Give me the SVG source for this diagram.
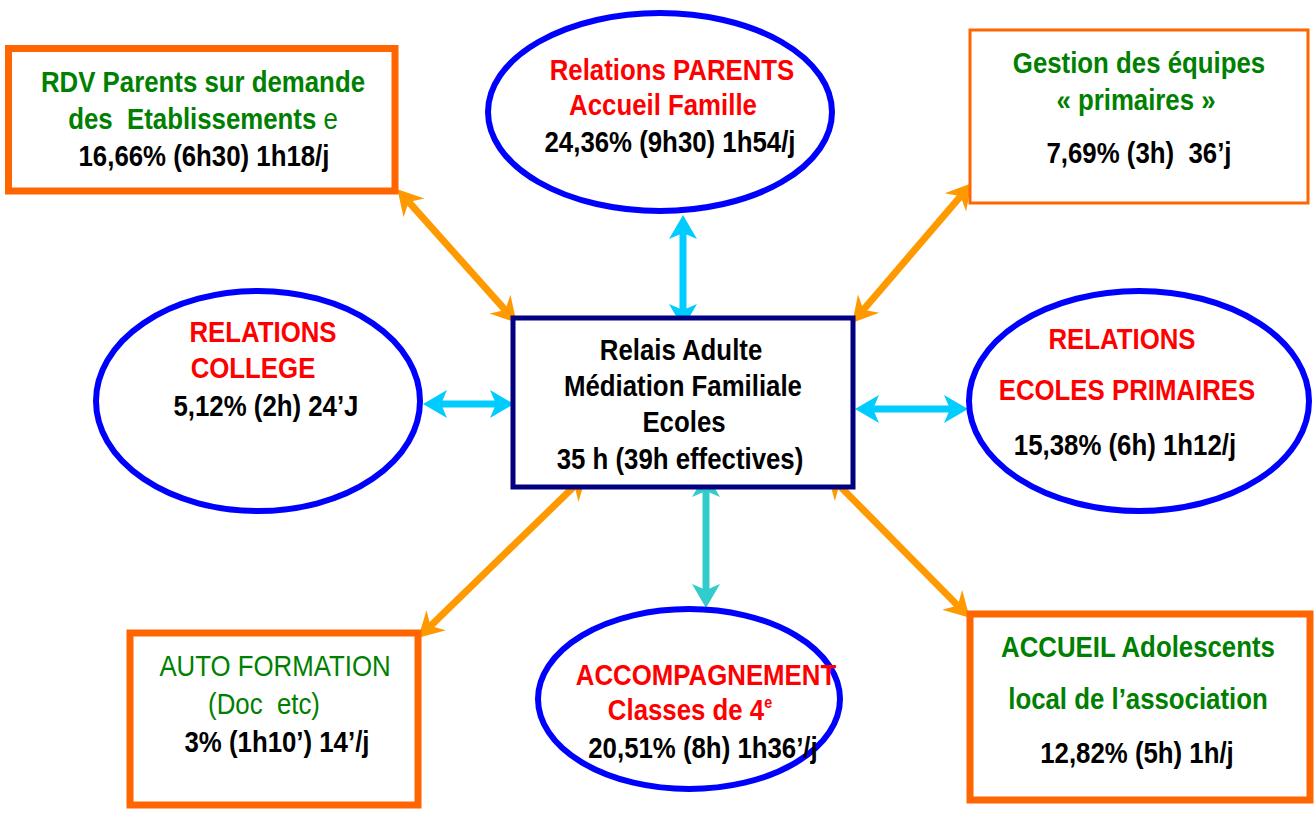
<svg xmlns="http://www.w3.org/2000/svg" width="1314" height="828" viewBox="0 0 1314 828">
  <style>
    text { font-family: "Liberation Sans", Arial, sans-serif; font-size: 29px; font-weight: bold; text-anchor: middle;
           transform-box: fill-box; transform-origin: center; transform: scaleX(0.89); }
    .red { fill: #FF0000; }
    .green { fill: #008000; }
    .black { fill: #000000; }
    .reg { font-weight: normal; }
    .oval { fill: #FFFFFF; stroke: #0000FF; stroke-width: 6; }
    .box { fill: #FFFFFF; stroke: #FF6600; stroke-width: 7; }
    .thin { stroke-width: 3; }
    .hub { fill: #FFFFFF; stroke: #000080; stroke-width: 5; }
    .orange { stroke: #FF9900; stroke-width: 7; fill: none; marker-start: url(#headOrange); marker-end: url(#headOrange); }
    .cyan { stroke: #00CCFF; stroke-width: 7; fill: none; marker-start: url(#headCyan); marker-end: url(#headCyan); }
    .teal { stroke: #33CCCC; stroke-width: 7; fill: none; marker-start: url(#headTeal); marker-end: url(#headTeal); }
  </style>
  <defs>
    <marker id="headOrange" markerUnits="userSpaceOnUse" orient="auto-start-reverse" overflow="visible" refX="0" refY="0" markerWidth="1" markerHeight="1">
      <path d="M17,0 L-8,-14 L0,0 L-8,14 Z" fill="#FF9900"/>
    </marker>
    <marker id="headCyan" markerUnits="userSpaceOnUse" orient="auto-start-reverse" overflow="visible" refX="0" refY="0" markerWidth="1" markerHeight="1">
      <path d="M18,0 L-6,-14 L0,0 L-6,14 Z" fill="#00CCFF"/>
    </marker>
    <marker id="headTeal" markerUnits="userSpaceOnUse" orient="auto-start-reverse" overflow="visible" refX="0" refY="0" markerWidth="1" markerHeight="1">
      <path d="M18,0 L-6,-14 L0,0 L-6,14 Z" fill="#33CCCC"/>
    </marker>
  </defs>

  <rect width="1314" height="828" fill="#FFFFFF"/>

  <!-- connectors -->
  <g id="connectors">
    <path class="orange" d="M408.7,201.9 L505.3,310.1"/>
    <path class="orange" d="M960.6,196.2 L863.4,309.8"/>
    <path class="orange" d="M574.5,486.1 L430.5,625.9"/>
    <path class="orange" d="M839.2,485.4 L957.8,605.6"/>
    <path class="cyan" d="M683,233 L683,310"/>
    <path class="cyan" d="M441,404 L496,404"/>
    <path class="cyan" d="M873,409 L950,409"/>
    <path class="teal" d="M706,491 L706,590"/>
  </g>

  <!-- central node -->
  <g id="hub">
    <rect class="hub" x="513" y="318" width="340" height="169"/>
    <text class="black" x="681" y="360">Relais Adulte</text>
    <text class="black" x="683" y="396">Médiation Familiale</text>
    <text class="black" x="684" y="432">Ecoles</text>
    <text class="black" x="680" y="469">35 h (39h effectives)</text>
  </g>

  <g id="rdv-parents">
    <rect class="box" x="8.5" y="48.5" width="386.5" height="142.5"/>
    <text class="green" x="203" y="92">RDV Parents sur demande</text>
    <text class="green" x="203" y="129">des&#160; Etablissements<tspan class="reg"> e</tspan></text>
    <text class="black" x="204" y="166">16,66% (6h30) 1h18/j</text>
  </g>

  <g id="relations-parents">
    <ellipse class="oval" cx="660" cy="112" rx="172" ry="99"/>
    <text class="red" x="672" y="80">Relations PARENTS</text>
    <text class="red" x="663" y="115">Accueil Famille</text>
    <text class="black" x="670" y="152">24,36% (9h30) 1h54/j</text>
  </g>

  <g id="gestion-equipes">
    <rect class="box thin" x="970" y="30" width="338" height="173"/>
    <text class="green" x="1139" y="73">Gestion des équipes</text>
    <text class="green" x="1136" y="110">« primaires »</text>
    <text class="black" x="1139" y="163">7,69% (3h)&#160; 36’j</text>
  </g>

  <g id="relations-college">
    <ellipse class="oval" cx="258" cy="401" rx="162" ry="110"/>
    <text class="red" x="263" y="342">RELATIONS</text>
    <text class="red" x="253" y="378">COLLEGE</text>
    <text class="black" x="266" y="416">5,12% (2h) 24’J</text>
  </g>

  <g id="relations-ecoles">
    <ellipse class="oval" cx="1139" cy="401" rx="170" ry="110"/>
    <text class="red" x="1122" y="349">RELATIONS</text>
    <text class="red" x="1127" y="400">ECOLES PRIMAIRES</text>
    <text class="black" x="1125" y="455">15,38% (6h) 1h12/j</text>
  </g>

  <g id="auto-formation">
    <rect class="box" x="130" y="633" width="288" height="172"/>
    <text class="green reg" x="275" y="676">AUTO FORMATION</text>
    <text class="green reg" x="264" y="714">(Doc&#160; etc)</text>
    <text class="black" x="277" y="752">3% (1h10’) 14’/j</text>
  </g>

  <g id="accompagnement">
    <ellipse class="oval" cx="689" cy="699" rx="151" ry="90"/>
    <text class="red" x="706" y="685">ACCOMPAGNEMENT</text>
    <text class="red" x="690" y="720">Classes de 4<tspan font-size="16" dy="-12">e</tspan></text>
    <text class="black" x="703" y="758">20,51% (8h) 1h36’/j</text>
  </g>

  <g id="accueil-adolescents">
    <rect class="box" x="970" y="614" width="340" height="186"/>
    <text class="green" x="1138" y="657">ACCUEIL Adolescents</text>
    <text class="green" x="1138" y="709">local de l’association</text>
    <text class="black" x="1137" y="763">12,82% (5h) 1h/j</text>
  </g>
</svg>
